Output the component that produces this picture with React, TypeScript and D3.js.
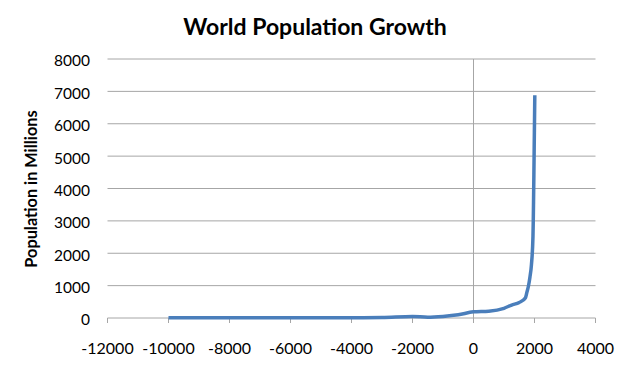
import React from 'react';
import * as d3 from 'd3';

// World population (millions) by year
const years = [-10000, -8000, -6500, -5000, -4000, -3000, -2000, -1500, -1000, -500, 1, 500, 1000, 1250, 1500, 1700, 1750, 1800, 1850, 1900, 1950, 1960, 1970, 1980, 1990, 2000, 2010];
const population = [4, 5, 5, 5, 7, 14, 45, 25, 50, 100, 190, 210, 300, 400, 480, 620, 790, 980, 1260, 1650, 2520, 3020, 3700, 4440, 5270, 6070, 6880];

const xTicks = [-12000, -10000, -8000, -6000, -4000, -2000, 0, 2000, 4000];
const yTicks = [0, 1000, 2000, 3000, 4000, 5000, 6000, 7000, 8000];

const W = 629;
const H = 368;
const font = 'Lato, "Open Sans", sans-serif';
const gridColor = '#a6a6a6';
const lineColor = '#4a7ebb';

export default function App() {
  const x = d3.scaleLinear().domain([-12000, 4000]).range([107.5, 595.5]);
  const y = d3.scaleLinear().domain([0, 8000]).range([318, 59]);

  const line = d3.line<number>()
    .x((d) => x(d))
    .y((_, i) => y(population[i]))
    .curve(d3.curveMonotoneX);

  return (
    <svg width={W} height={H} style={{ position: 'absolute', left: 0, top: 0, background: '#fff' }}>
      <text x={315} y={35} textAnchor="middle" fontFamily={font} fontWeight="bold" fontSize={23} fill="#000">
        World Population Growth
      </text>

      {/* horizontal gridlines */}
      {yTicks.filter((t) => t > 0).map((t) => (
        <line key={t} x1={x(-12000)} x2={x(4000)} y1={y(t)} y2={y(t)} stroke={gridColor} strokeWidth={1} />
      ))}

      {/* vertical axis crossing at 0 */}
      <line x1={x(0)} x2={x(0)} y1={y(8000)} y2={y(0)} stroke={gridColor} strokeWidth={1} />

      {/* x axis */}
      <line x1={x(-12000)} x2={x(4000)} y1={y(0)} y2={y(0)} stroke={gridColor} strokeWidth={1} />
      {xTicks.map((t) => (
        <line key={t} x1={x(t)} x2={x(t)} y1={y(0)} y2={y(0) + 5} stroke={gridColor} strokeWidth={1} />
      ))}

      {/* y tick labels */}
      {yTicks.map((t) => (
        <text key={t} x={90} y={y(t) + 2} dy="0.35em" textAnchor="end" fontFamily={font} fontSize={15.5} fill="#000">
          {t}
        </text>
      ))}

      {/* x tick labels */}
      {xTicks.map((t) => (
        <text key={t} x={x(t)} y={353.5} textAnchor="middle" fontFamily={font} fontSize={16} fill="#000">
          {t}
        </text>
      ))}

      <text
        transform={`translate(36.5, 189) rotate(-90)`}
        textAnchor="middle"
        fontFamily={font}
        fontWeight="bold"
        fontSize={16.3}
        fill="#000"
      >
        Population in Millions
      </text>

      <path d={line(years) ?? ''} fill="none" stroke={lineColor} strokeWidth={3.5} strokeLinejoin="round" />
    </svg>
  );
}
